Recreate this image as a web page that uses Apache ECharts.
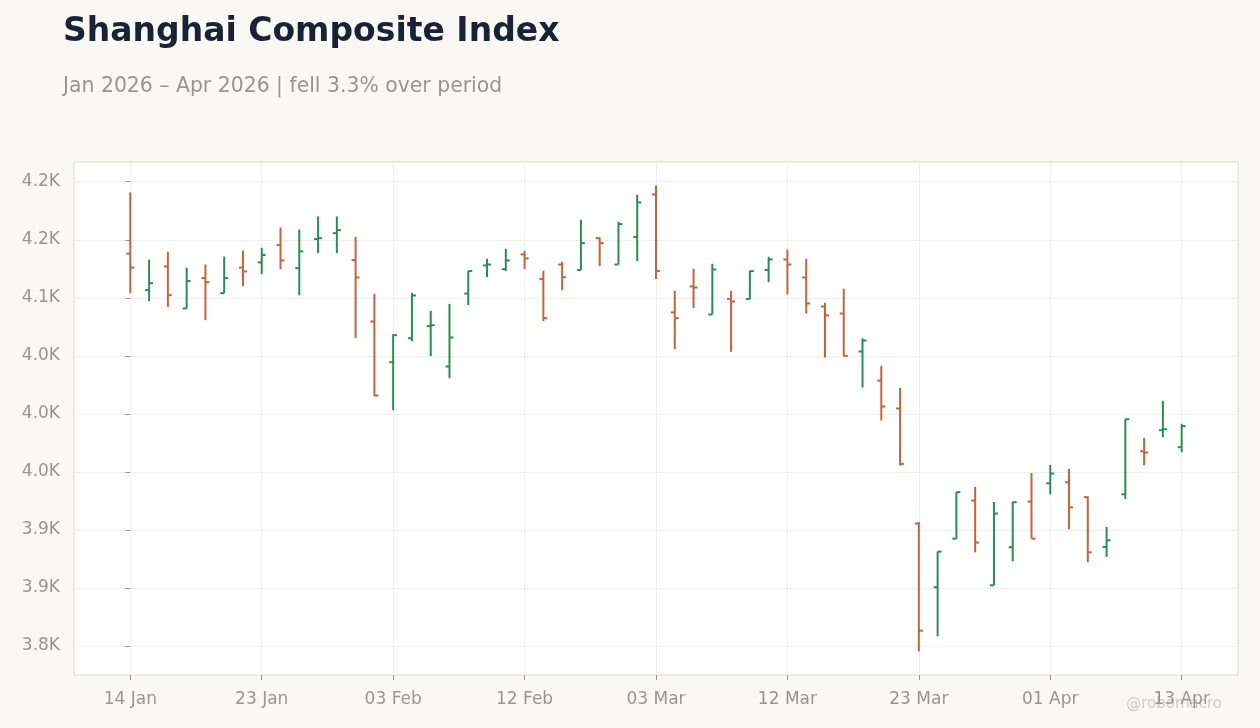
<!DOCTYPE html>
<html>
<head>
<meta charset="utf-8">
<title>Shanghai Composite Index</title>
<script src="https://cdn.jsdelivr.net/npm/echarts@6/dist/echarts.min.js"></script>
<style>
  html, body { margin: 0; padding: 0; background: #f9f8f5; }
  #chart { width: 1260px; height: 728px; }
</style>
</head>
<body>
<div id="chart"></div>
<script>
// trading days
const dates = [
  '2026-01-14', '2026-01-15', '2026-01-16', '2026-01-19', '2026-01-20', '2026-01-21', '2026-01-22', '2026-01-23',
  '2026-01-26', '2026-01-27', '2026-01-28', '2026-01-29', '2026-01-30', '2026-02-02', '2026-02-03', '2026-02-04',
  '2026-02-05', '2026-02-06', '2026-02-09', '2026-02-10', '2026-02-11', '2026-02-12', '2026-02-13', '2026-02-24',
  '2026-02-25', '2026-02-26', '2026-02-27', '2026-03-02', '2026-03-03', '2026-03-04', '2026-03-05', '2026-03-06',
  '2026-03-09', '2026-03-10', '2026-03-11', '2026-03-12', '2026-03-13', '2026-03-16', '2026-03-17', '2026-03-18',
  '2026-03-19', '2026-03-20', '2026-03-23', '2026-03-24', '2026-03-25', '2026-03-26', '2026-03-27', '2026-03-30',
  '2026-03-31', '2026-04-01', '2026-04-02', '2026-04-03', '2026-04-07', '2026-04-08', '2026-04-09', '2026-04-10',
  '2026-04-13'
]
const openValues = [
  4138, 4106.6, 4127, 4090.8, 4117, 4104, 4126, 4130.5, 4145.4, 4125.6, 4150.6, 4155.7,
  4132.5, 4079.6, 4044.5, 4065.2, 4075.6, 4040.8, 4103.7, 4127.9, 4124.7, 4137.4, 4116.1,
  4128.7, 4123.9, 4151.4, 4128.7, 4152.3, 4189.1, 4087.4, 4109.8, 4085.6, 4098.9, 4098.9,
  4123.9, 4133, 4117.5, 4092.5, 4086.5, 4053.7, 4028.7, 4004.6, 3905.5, 3850.6, 3892.5,
  3925.3, 3852.3, 3885.1, 3924.4, 3940.2, 3941.1, 3928.2, 3885.3, 3930.7, 3967.8, 3985.9,
  3971.3
]
const closeValues = [
  4126, 4112.6, 4102.3, 4114.4, 4113.5, 4117, 4122.7, 4136.8, 4132.2, 4140, 4151.4, 4158.3,
  4117.5, 4015.8, 4067.8, 4102, 4076.4, 4065.8, 4123, 4128.7, 4132.2, 4133.9, 4082.5,
  4117.8, 4147.1, 4147.1, 4163.5, 4182.2, 4123, 4082.5, 4108.9, 4124.4, 4096.8, 4123,
  4133, 4128.7, 4095.1, 4084.8, 4050, 4063.2, 4006.3, 3956.9, 3813.2, 3881.3, 3932.5,
  3889.1, 3914.1, 3923.9, 3892.5, 3948.6, 3919.5, 3880.7, 3891.1, 3995.4, 3966.7, 3986.8,
  3989.4
]
const lowValues = [
  4104, 4097, 4092, 4090.8, 4080.7, 4104, 4110, 4120.4, 4124.7, 4102.3, 4138.5, 4138.5,
  4065.2, 4015.2, 4003.2, 4062.6, 4049.7, 4030.7, 4093.7, 4117.8, 4123, 4124.7, 4079.9,
  4106.6, 4123.9, 4127.3, 4128.7, 4131.6, 4116.1, 4055.7, 4091.1, 4085.6, 4053.4, 4098.9,
  4113.5, 4102.9, 4086.5, 4048.6, 4049.7, 4022.7, 3994.3, 3955.5, 3795.4, 3808.3, 3892.5,
  3880.7, 3852.3, 3873, 3892.5, 3930.7, 3900.6, 3872.1, 3876.7, 3926.7, 3955.7, 3979.9,
  3967
]
const highValues = [
  4190.8, 4132.8, 4139.7, 4125.9, 4128.7, 4135.6, 4140.8, 4143.1, 4160.6, 4158.9, 4170.1, 4170.1,
  4152.6, 4103.4, 4068.7, 4104.3, 4088.8, 4094.8, 4123.3, 4133.6, 4142.2, 4140.5, 4123.3,
  4131, 4167.2, 4152, 4165.5, 4188.8, 4196.8, 4106, 4125, 4129.3, 4106, 4123.3,
  4135.3, 4141.4, 4133.6, 4095.7, 4107.8, 4065.2, 4041.4, 4022.4, 3906.9, 3881.3, 3932.8,
  3937.1, 3924.1, 3924.1, 3949.1, 3956, 3952.6, 3929, 3902.6, 3995.4, 3979.3, 4011.2,
  3991.4
]
const xTickIndex = [0, 7, 14, 21, 28, 35, 42, 49, 56]
const yTicks = [3800, 3850, 3900, 3950, 4000, 4050, 4100, 4150, 4200]

const upColor = '#2e8b57'
const downColor = '#c8623e'
const months = ['Jan', 'Feb', 'Mar', 'Apr', 'May', 'Jun', 'Jul', 'Aug', 'Sep', 'Oct', 'Nov', 'Dec']

function fmtDate(s) {
  const p = s.split('-')
  return p[2] + ' ' + months[parseInt(p[1], 10) - 1]
}

const ohlc = dates.map((d, i) => [i, openValues[i], closeValues[i], lowValues[i], highValues[i]])

function renderItem(params, api) {
  const x = api.value(0)
  const o = api.coord([x, api.value(1)])
  const c = api.coord([x, api.value(2)])
  const l = api.coord([x, api.value(3)])
  const h = api.coord([x, api.value(4)])
  const color = api.value(2) >= api.value(1) ? upColor : downColor
  const style = { stroke: color, lineWidth: 2 }
  return {
    type: 'group',
    children: [
      { type: 'line', shape: { x1: h[0], y1: h[1], x2: l[0], y2: l[1] }, style: style },
      { type: 'line', shape: { x1: o[0] - 4, y1: o[1], x2: o[0], y2: o[1] }, style: style },
      { type: 'line', shape: { x1: c[0], y1: c[1], x2: c[0] + 4, y2: c[1] }, style: style }
    ]
  }
}

const chart = echarts.init(document.getElementById('chart'))
chart.setOption({
  backgroundColor: '#f9f8f5',
  animation: false,
  textStyle: { fontFamily: 'DejaVu Sans' },
  title: [
    {
      text: 'Shanghai Composite Index',
      left: 58,
      top: 11,
      textStyle: { fontSize: 33, fontWeight: 'bold', color: '#1a2333', fontFamily: 'DejaVu Sans' }
    },
    {
      text: 'Jan 2026 – Apr 2026 | fell 3.3% over period',
      left: 58,
      top: 72,
      textStyle: { fontSize: 20.4, fontWeight: 'normal', color: '#9a9590', fontFamily: 'DejaVu Sans' }
    }
  ],
  graphic: [
    {
      type: 'text',
      right: 38,
      top: 697,
      style: { text: '@robomacro', fill: '#cfcbc5', font: '15px "DejaVu Sans"' }
    }
  ],
  grid: {
    left: 74,
    right: 22,
    top: 162,
    bottom: 53,
    show: true,
    backgroundColor: '#ffffff',
    borderColor: '#dcd8d0',
    borderWidth: 1
  },
  xAxis: {
    type: 'value',
    min: -3,
    max: 59,
    axisLine: { show: false },
    axisTick: { show: true, length: 5, lineStyle: { color: '#9a9590' }, customValues: xTickIndex },
    axisLabel: {
      customValues: xTickIndex,
      margin: 16,
      fontSize: 17,
      color: '#9a9590',
      formatter: v => fmtDate(dates[v])
    },
    splitLine: { show: true, lineStyle: { color: '#efefef' } }
  },
  yAxis: {
    type: 'value',
    min: 3775,
    max: 4217,
    axisLine: { show: false },
    axisTick: { show: true, length: 5, lineStyle: { color: '#9a9590' }, customValues: yTicks },
    axisLabel: {
      customValues: yTicks,
      margin: 14,
      fontSize: 17,
      color: '#9a9590',
      padding: [3, 0, 0, 0],
      formatter: v => (v / 1000).toFixed(1) + 'K'
    },
    splitLine: { show: true, lineStyle: { color: '#efefef' } }
  },
  series: [
    {
      type: 'custom',
      renderItem: renderItem,
      encode: { x: 0, y: [1, 2, 3, 4] },
      data: ohlc,
      clip: true
    }
  ]
})
</script>
</body>
</html>
